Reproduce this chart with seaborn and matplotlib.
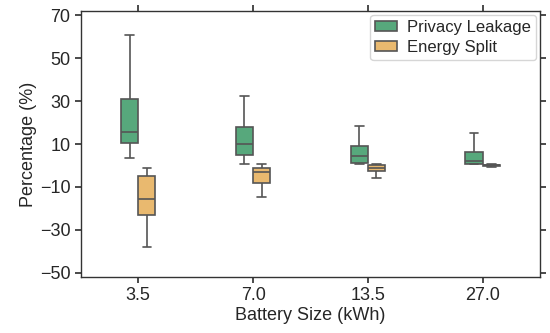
import numpy as np
import pandas as pd
import matplotlib
matplotlib.use("Agg")
import matplotlib.pyplot as plt
import seaborn as sns

# Battery sizes (x categories)
battery_sizes = ["3.5", "7.0", "13.5", "27.0"]
series_names = ["Privacy Leakage", "Energy Split"]

# Five-number summaries: min, q1, median, q3, max
privacy_leakage = {
    "3.5": [3.3, 10.4, 15.5, 30.9, 61.0],
    "7.0": [0.5, 5.1, 10.1, 18.1, 32.4],
    "13.5": [0.5, 1.3, 4.4, 9.2, 18.2],
    "27.0": [0.5, 0.6, 2.3, 6.5, 15.0],
}
energy_split = {
    "3.5": [-37.8, -23.1, -15.7, -5.0, -1.1],
    "7.0": [-14.7, -8.2, -3.2, -1.1, 0.5],
    "13.5": [-5.7, -2.4, -1.0, 0.2, 0.5],
    "27.0": [-0.6, -0.3, 0.0, 0.3, 0.5],
}

rows = []
for name, d in zip(series_names, [privacy_leakage, energy_split]):
    for b in battery_sizes:
        for v in d[b]:
            rows.append({"Battery Size (kWh)": b, "Percentage (%)": v, "Metric": name})
df = pd.DataFrame(rows)

sns.set_theme(style="ticks")
plt.rcParams["font.family"] = ["Liberation Sans", "DejaVu Sans"]

fig, ax = plt.subplots(figsize=(5.5, 3.33), dpi=100)
fig.subplots_adjust(left=0.147, right=0.982, top=0.967, bottom=0.168)

sns.boxplot(
    data=df, x="Battery Size (kWh)", y="Percentage (%)", hue="Metric",
    order=battery_sizes, hue_order=series_names,
    palette=["#57a87c", "#e9b96f"], saturation=1, width=0.3, gap=0,
    linecolor="#555555", linewidth=1.2, whis=1000, ax=ax,
)

ax.set_ylim(-52, 72)
ax.set_yticks([-50, -30, -10, 10, 30, 50, 70])
ax.set_xlim(-0.5, 3.5)
ax.tick_params(axis="both", which="both", direction="out", top=True, right=True,
               labelsize=13, length=4, color="#333333")
ax.set_xlabel("Battery Size (kWh)", fontsize=13, labelpad=2)
ax.set_ylabel("Percentage (%)", fontsize=13, labelpad=2)
for s in ax.spines.values():
    s.set_color("#333333")
    s.set_linewidth(1.0)

leg = ax.legend(loc="upper right", fontsize=12, frameon=True, borderpad=0.3,
                labelspacing=0.3, handlelength=1.3, handleheight=0.5,
                handletextpad=0.6, borderaxespad=0.25)
leg.get_frame().set_edgecolor("#cccccc")

fig.savefig("out.png", dpi=100)
